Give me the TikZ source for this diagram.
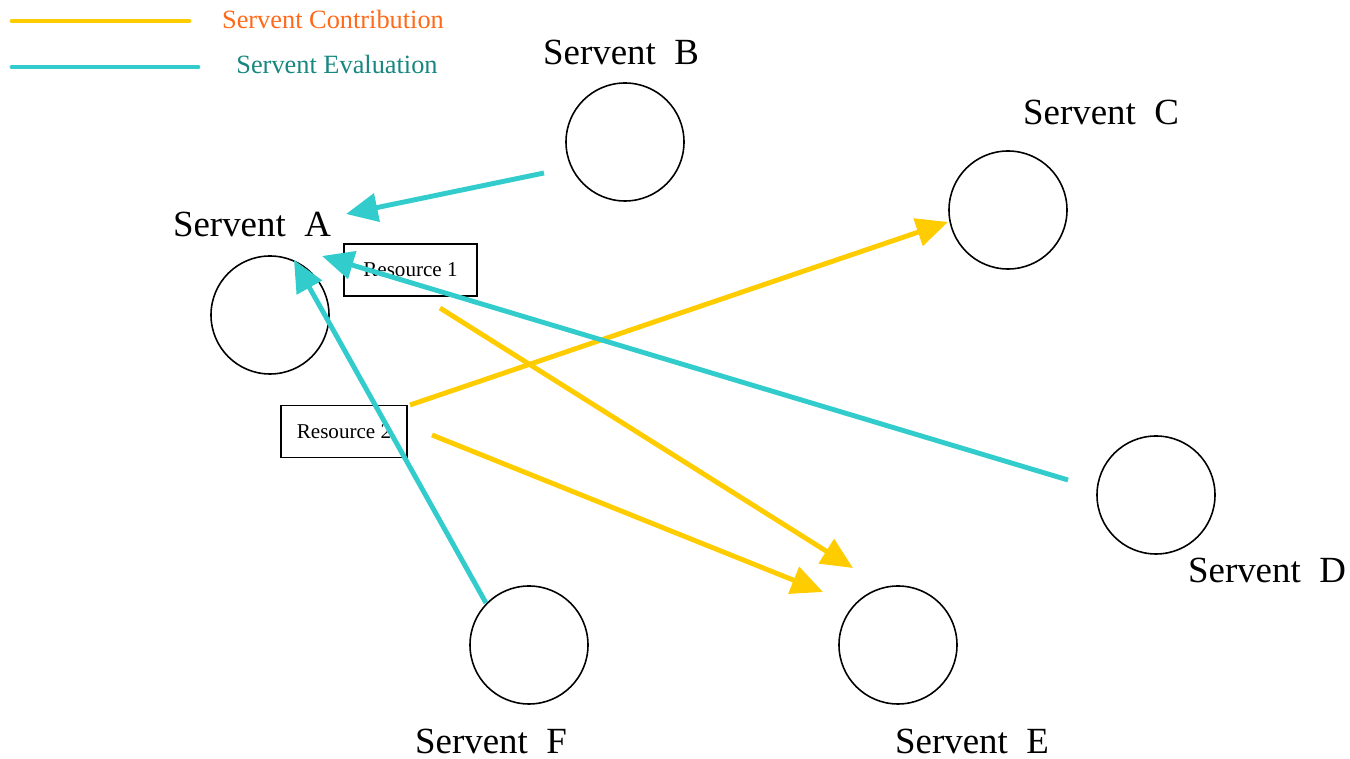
\documentclass[tikz,border=0pt]{standalone}
\usepackage{fontspec}
\setmainfont{Liberation Serif}
\usetikzlibrary{arrows.meta,positioning}

\definecolor{contrib}{HTML}{FFCC00}
\definecolor{evalcol}{HTML}{33CCCC}
\definecolor{contribtxt}{HTML}{FF6A1A}
\definecolor{evaltxt}{HTML}{17877F}

\tikzset{
    servent/.style={draw,circle,line width=0.9pt,minimum size=118*0.02cm,inner sep=0pt},
    slabel/.style={font=\fontsize{21}{24}\selectfont},
    resource/.style={draw,line width=0.8pt,minimum width=#1,minimum height=52*0.02cm,font=\fontsize{12}{14}\selectfont},
    contribarrow/.style={contrib,line width=2.8pt,-{Triangle[length=18pt,width=16pt]}},
    evalarrow/.style={evalcol,line width=2.8pt,-{Triangle[length=18pt,width=16pt]}},
}

\begin{document}
\begin{tikzpicture}[x=0.02cm,y=-0.02cm]
    \useasboundingbox (0,0) rectangle (1350,759);
    % legend
    \coordinate (lc1) at (12,21);
    \coordinate (lc2) at (189,21);
    \coordinate (le1) at (12,67);
    \coordinate (le2) at (198,67);
    \draw[contrib,line width=2.8pt,line cap=round] (lc1) -- (lc2);
    \draw[evalcol,line width=2.8pt,line cap=round] (le1) -- (le2);
    \node[text=contribtxt,font=\fontsize{15}{17}\selectfont] (ltc) at (333,19) {Servent Contribution};
    \node[text=evaltxt,font=\fontsize{15}{17}\selectfont] (lte) at (337,64) {Servent Evaluation};
    % servents
    \node[servent] (A) at (270,315) {};
    \node[servent] (B) at (625,142) {};
    \node[servent] (C) at (1008,210) {};
    \node[servent] (D) at (1156,495) {};
    \node[servent] (E) at (898,645) {};
    \node[servent] (F) at (529,645) {};
    \node[slabel] (la) at (252,224) {Servent~~A};
    \node[slabel] (lb) at (621,52) {Servent~~B};
    \node[slabel] (lc) at (1101,112) {Servent~~C};
    \node[slabel] (ld) at (1267,570) {Servent~~D};
    \node[slabel] (le) at (972,741) {Servent~~E};
    \node[slabel] (lf) at (491,741) {Servent~~F};
    % resources
    \node[resource=133*0.02cm] (r1) at (410.5,270) {Resource 1};
    \node[resource=126*0.02cm] (r2) at (344,431.5) {Resource 2};
    % contributions
    \coordinate (c2s) at (410,405);
    \coordinate (c2t) at (948,222);
    \coordinate (c1s) at (440,308);
    \coordinate (c1t) at (853,568);
    \coordinate (c3s) at (432,435);
    \coordinate (c3t) at (823,592);
    \draw[contribarrow] (c2s) -- (c2t);
    \draw[contribarrow] (c1s) -- (c1t);
    \draw[contribarrow] (c3s) -- (c3t);
    % evaluations
    \coordinate (eb) at (544,173);
    \coordinate (ebt) at (346,214);
    \coordinate (ed) at (1068,480);
    \coordinate (edt) at (322,256);
    \coordinate (ef) at (486,603);
    \coordinate (eft) at (294,260);
    \draw[evalarrow] (eb) -- (ebt);
    \draw[evalarrow] (ed) -- (edt);
    \draw[evalarrow] (ef) -- (eft);
\end{tikzpicture}
\end{document}
